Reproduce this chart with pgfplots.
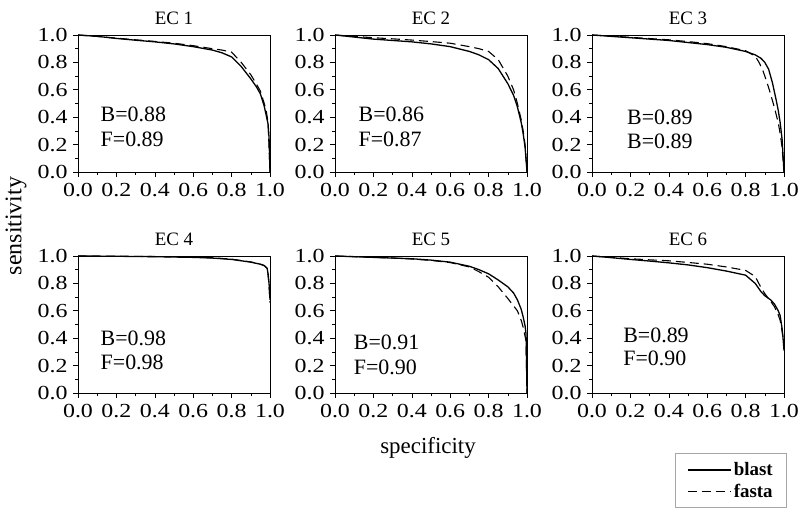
\documentclass[border=0pt]{standalone}
\usepackage{fontspec}
\setmainfont{Liberation Serif}
\newfontfamily\tickfont{Liberation Serif}[FakeStretch=1.2]
\usepackage{pgfplots}
\pgfplotsset{compat=1.18}

\pgfplotsset{
  ecpanel/.style={
    scale only axis, width=192bp, height=137bp,
    xmin=0, xmax=1, ymin=0, ymax=1,
    xtick={0,0.2,0.4,0.6,0.8,1}, ytick={0,0.2,0.4,0.6,0.8,1},
    minor x tick num=1, minor y tick num=1,
    tick pos=left, tick align=outside,
    major tick length=5bp, minor tick length=3bp,
    ticklabel style={font=\fontsize{20}{22}\selectfont\tickfont},
    /pgf/number format/fixed, /pgf/number format/fixed zerofill,
    /pgf/number format/precision=1, /pgf/number format/assume math mode=true,
    xticklabel style={yshift=-3bp}, yticklabel style={xshift=-2bp},
    axis line style={line width=0.8bp},
    every tick/.style={black, line width=0.6bp},
    title style={font=\fontsize{19}{21}\selectfont, yshift=1bp},
  },
  blast/.style={black, line width=1.3bp},
  fasta/.style={black, line width=1.1bp, dash pattern=on 9bp off 5bp},
}
\tikzset{note/.style={anchor=west, font=\fontsize{22}{24}\selectfont}}

\begin{document}
\begin{tikzpicture}
\useasboundingbox (0,0) rectangle (800bp,520bp);

% EC 1
\begin{axis}[ecpanel, at={(78bp,348bp)}, anchor=south west, title={EC 1}]
\addplot[blast] coordinates {(0,1)(0.1,0.99)(0.2,0.975)(0.3,0.962)(0.4,0.95)(0.5,0.935)(0.6,0.915)(0.7,0.89)(0.75,0.87)(0.8,0.84)(0.85,0.77)(0.9,0.68)(0.93,0.62)(0.95,0.57)(0.97,0.48)(0.99,0.35)(0.995,0.25)(1,0)};
\addplot[fasta] coordinates {(0,1)(0.1,0.99)(0.2,0.977)(0.3,0.965)(0.4,0.953)(0.5,0.94)(0.6,0.922)(0.7,0.9)(0.75,0.89)(0.8,0.875)(0.85,0.80)(0.9,0.71)(0.93,0.64)(0.95,0.59)(0.97,0.5)(0.98,0.45)(0.99,0.36)(1,0)};
\node[note] at (axis cs:0.1,0.42) {B=0.88};
\node[note] at (axis cs:0.1,0.235) {F=0.89};
\end{axis}

% EC 2
\begin{axis}[ecpanel, at={(335bp,348bp)}, anchor=south west, title={EC 2}]
\addplot[blast] coordinates {(0,1)(0.1,0.985)(0.2,0.97)(0.3,0.96)(0.4,0.95)(0.5,0.935)(0.6,0.915)(0.7,0.88)(0.75,0.855)(0.8,0.82)(0.85,0.755)(0.9,0.645)(0.93,0.56)(0.95,0.475)(0.97,0.36)(0.98,0.28)(0.99,0.18)(1,0)};
\addplot[fasta] coordinates {(0,1)(0.1,0.99)(0.2,0.98)(0.3,0.972)(0.4,0.963)(0.5,0.952)(0.6,0.94)(0.7,0.915)(0.75,0.9)(0.8,0.88)(0.85,0.82)(0.9,0.70)(0.93,0.6)(0.95,0.5)(0.97,0.38)(0.98,0.30)(0.99,0.2)(1,0)};
\node[note] at (axis cs:0.105,0.42) {B=0.86};
\node[note] at (axis cs:0.105,0.235) {F=0.87};
\end{axis}

% EC 3
\begin{axis}[ecpanel, at={(592bp,348bp)}, anchor=south west, title={EC 3}]
\addplot[blast] coordinates {(0,1)(0.1,0.99)(0.2,0.98)(0.3,0.97)(0.4,0.96)(0.5,0.945)(0.6,0.93)(0.7,0.91)(0.8,0.88)(0.85,0.855)(0.88,0.83)(0.9,0.80)(0.92,0.75)(0.94,0.65)(0.96,0.52)(0.97,0.45)(0.98,0.36)(0.99,0.24)(1,0)};
\addplot[fasta] coordinates {(0,1)(0.1,0.992)(0.2,0.983)(0.3,0.974)(0.4,0.965)(0.5,0.952)(0.6,0.937)(0.7,0.915)(0.8,0.885)(0.85,0.845)(0.87,0.80)(0.89,0.74)(0.91,0.66)(0.93,0.57)(0.95,0.47)(0.97,0.36)(0.98,0.28)(0.99,0.18)(1,0)};
\node[note] at (axis cs:0.165,0.40) {B=0.89};
\node[note] at (axis cs:0.165,0.22) {B=0.89};
\end{axis}

% EC 4
\begin{axis}[ecpanel, at={(78bp,127bp)}, anchor=south west, title={EC 4}]
\addplot[blast] coordinates {(0,1)(0.2,0.998)(0.4,0.995)(0.6,0.99)(0.7,0.985)(0.8,0.975)(0.9,0.955)(0.95,0.94)(0.97,0.93)(0.985,0.91)(0.99,0.87)(0.995,0.80)(1,0.68)};
\addplot[fasta] coordinates {(0,1)(0.2,0.998)(0.4,0.996)(0.6,0.992)(0.7,0.987)(0.8,0.977)(0.9,0.957)(0.95,0.94)(0.97,0.93)(0.985,0.91)(0.99,0.86)(0.995,0.79)(1,0.66)};
\node[note] at (axis cs:0.1,0.40) {B=0.98};
\node[note] at (axis cs:0.1,0.22) {F=0.98};
\end{axis}

% EC 5
\begin{axis}[ecpanel, at={(335bp,127bp)}, anchor=south west, title={EC 5}]
\addplot[blast] coordinates {(0,1)(0.1,0.995)(0.2,0.99)(0.3,0.985)(0.4,0.98)(0.5,0.97)(0.6,0.955)(0.7,0.925)(0.75,0.9)(0.8,0.87)(0.85,0.825)(0.9,0.775)(0.93,0.73)(0.95,0.68)(0.97,0.61)(0.98,0.555)(0.99,0.49)(0.995,0.43)(1,0)};
\addplot[fasta] coordinates {(0,1)(0.1,0.995)(0.2,0.99)(0.3,0.985)(0.4,0.978)(0.5,0.968)(0.6,0.952)(0.7,0.92)(0.75,0.885)(0.8,0.845)(0.85,0.775)(0.9,0.69)(0.95,0.60)(0.97,0.53)(0.98,0.48)(0.995,0.38)(1,0)};
\node[note] at (axis cs:0.08,0.37) {B=0.91};
\node[note] at (axis cs:0.08,0.19) {F=0.90};
\end{axis}

% EC 6
\begin{axis}[ecpanel, at={(592bp,127bp)}, anchor=south west, title={EC 6},
  legend style={at={(1.016,-0.438)}, anchor=north east, draw=gray!70, line width=0.8bp,
    font=\fontsize{19}{21}\selectfont\bfseries, inner xsep=12bp, inner ysep=7bp,
    row sep=3bp, legend cell align=left},
  legend image code/.code={\draw[#1, line width=1.6bp] (0bp,0bp) -- (43bp,0bp);}]
\addplot[blast] coordinates {(0,1)(0.1,0.988)(0.2,0.975)(0.3,0.963)(0.4,0.95)(0.5,0.935)(0.6,0.915)(0.7,0.89)(0.8,0.86)(0.85,0.80)(0.88,0.74)(0.9,0.71)(0.93,0.68)(0.95,0.65)(0.97,0.6)(0.98,0.565)(0.99,0.47)(0.995,0.4)(1,0.31)};
\addlegendentry{blast}
\addplot[fasta] coordinates {(0,1)(0.1,0.99)(0.2,0.98)(0.3,0.972)(0.4,0.965)(0.5,0.953)(0.6,0.94)(0.7,0.92)(0.8,0.895)(0.85,0.85)(0.88,0.77)(0.9,0.725)(0.93,0.67)(0.95,0.63)(0.97,0.57)(0.98,0.53)(0.99,0.45)(1,0.36)};
\addlegendentry{fasta}
\node[note] at (axis cs:0.145,0.42) {B=0.89};
\node[note] at (axis cs:0.145,0.255) {F=0.90};
\end{axis}

\node[rotate=90, font=\fontsize{24}{26}\selectfont] at (16bp,294bp) {sensitivity};
\node[font=\fontsize{23}{25}\selectfont] at (428bp,72bp) {specificity};
\end{tikzpicture}
\end{document}
